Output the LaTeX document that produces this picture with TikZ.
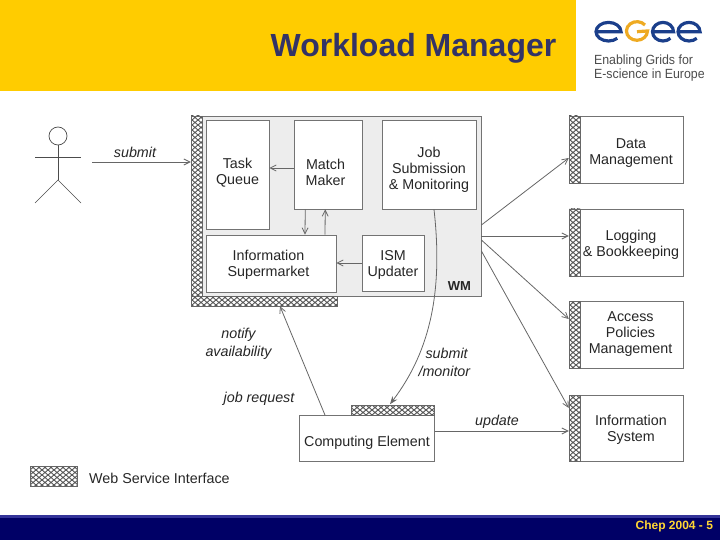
\documentclass[tikz,border=0pt]{standalone}
\usepackage{fontspec}
\setmainfont{Liberation Sans}
\newfontfamily\logofont[FakeStretch=0.93]{Liberation Sans}
\usetikzlibrary{patterns,arrows.meta}

\definecolor{headeryellow}{HTML}{FFCC00}
\definecolor{titleblue}{HTML}{333366}
\definecolor{footnavy}{HTML}{000066}
\definecolor{footstrip}{HTML}{333399}
\definecolor{logoblue}{HTML}{1B3F8B}
\definecolor{logoorange}{HTML}{EEAA22}

\pgfdeclarepatternformonly{wsimesh}{\pgfqpoint{-1pt}{-1pt}}{\pgfqpoint{7pt}{6pt}}{\pgfqpoint{6pt}{5pt}}{
  \pgfsetlinewidth{0.9pt}
  \pgfpathmoveto{\pgfqpoint{0pt}{0pt}}\pgfpathlineto{\pgfqpoint{6pt}{5pt}}
  \pgfpathmoveto{\pgfqpoint{0pt}{5pt}}\pgfpathlineto{\pgfqpoint{6pt}{0pt}}
  \pgfusepath{stroke}
}

\tikzset{
  box/.style={draw=black!55,fill=white,line width=0.8pt,inner sep=0pt},
  wsi/.style={draw=black!60,line width=0.5pt,preaction={fill=white},pattern=wsimesh,pattern color=black!65,inner sep=0pt},
  boxtext/.style={align=center,text=black!85,font=\fontsize{14.3}{16}\selectfont},
  linktext/.style={align=center,text=black!85,font=\itshape\fontsize{14.3}{18}\selectfont},
  wire/.style={draw=black!60,line width=0.8pt,-{Straight Barb[length=6pt,width=6pt]}},
  logostroke/.style={line width=3.2pt}
}

\newcommand{\logoe}[2]{
\draw[logostroke,logoblue] (#1-#2,31.7) -- (#1+#2,31.7)
  arc[start angle=0,end angle=-180,x radius=#2,y radius=9.3]
  arc[start angle=180,end angle=45,x radius=#2,y radius=9.3];
}

\begin{document}
\begin{tikzpicture}[x=1pt,y=-1pt]
\useasboundingbox (0,0) rectangle (720,540);

\fill[headeryellow] (0,0) rectangle (576,91);
\fill[footnavy] (0,515) rectangle (720,540);
\fill[footstrip] (0,515) rectangle (720,517.5);

\node[text=titleblue,font=\bfseries\fontsize{32}{36}\selectfont] (title) at (413.5,48) {Workload Manager};
\node[anchor=east,text=headeryellow!80!white,font=\bfseries\fontsize{12}{14}\selectfont] (pagenum) at (716.5,526.5) {Chep 2004 - 5};

\logoe{608.5}{12.5}
\draw[logostroke,logoorange] (645,25) arc[start angle=-40,end angle=-180,x radius=10.5,y radius=9.3]
  arc[start angle=180,end angle=0,x radius=10.5,y radius=9.3] -- (637,31.7);
\logoe{663}{10.5}
\logoe{689}{11}
\node[anchor=west,text=black!70,align=left,font=\logofont\fontsize{13.3}{14}\selectfont] (logotext) at (590.5,68) {Enabling Grids for\\E-science in Europe};

% actor
\draw[line width=0.7pt,black!70] (58,136) circle (9);
\draw[line width=0.7pt,black!70] (58,145) -- (58,180);
\draw[line width=0.7pt,black!70] (35,157) -- (81,157);
\draw[line width=0.7pt,black!70] (35,203) -- (58,180) -- (81,203);
\coordinate (actorhand) at (92,162);

% workload manager
\node[draw=black!55,fill=black!7,line width=0.8pt,minimum width=279pt,minimum height=180pt] (wm) at (341.5,206) {};
\node[wsi,minimum width=11pt,minimum height=190pt] (wmleft) at (196.5,211) {};
\node[wsi,minimum width=146pt,minimum height=10pt] (wmbottom) at (264,301) {};
\node[font=\bfseries\fontsize{13}{15}\selectfont,text=black!85] (wmtext) at (459.5,286) {WM};

\node[box,minimum width=62.5pt,minimum height=109pt] (queue) at (237.75,174.5) {};
\node[box,minimum width=67.5pt,minimum height=89pt] (match) at (328.25,164.5) {};
\node[box,minimum width=94pt,minimum height=89pt] (jobsub) at (429,164.5) {};
\node[box,minimum width=129.5pt,minimum height=57pt] (ism) at (271.25,263.5) {};
\node[box,minimum width=62pt,minimum height=56pt] (updater) at (393,263) {};

\node[boxtext] (queuetext) at (237.5,172.5) {Task\\Queue};
\node[boxtext] (matchtext) at (325.5,172.5) {Match\\Maker};
\node[boxtext] (jobsubtext) at (429,170) {Job\\Submission\\\& Monitoring};
\node[boxtext] (ismtext) at (268.5,264.5) {Information\\Supermarket};
\node[boxtext] (updatertext) at (393,264.5) {ISM\\Updater};

\draw[wire] ([yshift=-3.5pt]match.west) -- ([yshift=-3.5pt]queue.east |- match.west);
\draw[wire] ([xshift=-23pt]match.south) -- ([xshift=33.75pt]ism.north);
\draw[wire] ([xshift=53.75pt]ism.north) -- ([xshift=-3pt]match.south);
\draw[wire] (updater.west) -- (ism.east |- updater.west);

% services
\node[box,minimum width=103pt,minimum height=67pt] (data) at (631.5,149.5) {};
\node[box,minimum width=103pt,minimum height=67pt] (logging) at (631.5,242.5) {};
\node[box,minimum width=103pt,minimum height=67pt] (access) at (631.5,334.5) {};
\node[box,minimum width=103pt,minimum height=66pt] (infosys) at (631.5,428) {};

\node[wsi,minimum width=11pt,minimum height=67pt] (datawsi) at (574.5,149.5) {};
\node[wsi,minimum width=11pt,minimum height=67pt] (loggingwsi) at (574.5,242.5) {};
\node[wsi,minimum width=11pt,minimum height=67pt] (accesswsi) at (574.5,334.5) {};
\node[wsi,minimum width=11pt,minimum height=66pt] (infosyswsi) at (574.5,428) {};

\node[boxtext] (datatext) at (631,153) {Data\\Management};
\node[boxtext] (loggingtext) at (631,245) {Logging\\\& Bookkeeping};
\node[boxtext] (accesstext) at (630.5,334.5) {Access\\Policies\\Management};
\node[boxtext] (infosystext) at (631,430) {Information\\System};

% computing element
\node[box,minimum width=134.5pt,minimum height=46pt] (ce) at (367,438.5) {};
\node[wsi,minimum width=83pt,minimum height=10pt] (cewsi) at (392.5,410.5) {};
\node[boxtext] (cetext) at (367,442.5) {Computing Element};

% legend
\node[wsi,minimum width=47pt,minimum height=20pt] (legend) at (53.5,476) {};
\node[boxtext,anchor=west] (legendtext) at (85.7,478) {Web Service Interface};

% links
\draw[wire] (actorhand) -- (wmleft.west |- actorhand);
\draw[wire] ([yshift=-19pt]wm.east) -- ([yshift=-8.5pt]datawsi.west);
\draw[wire] ([yshift=-30pt]wm.east) -- ([yshift=6.5pt]loggingwsi.west);
\draw[wire] ([yshift=-34pt]wm.east) -- ([yshift=15.5pt]accesswsi.west);
\draw[wire] ([yshift=-45pt]wm.east) -- ([yshift=20pt]infosyswsi.west);
\draw[wire] ([xshift=-42pt]ce.north) -- ([xshift=16pt]wmbottom.south);
\draw[wire] ([yshift=7.5pt]ce.east) -- ([yshift=-3pt]infosyswsi.west);
\draw[draw=black!60,line width=0.8pt,-{Stealth[length=8pt,width=6pt]}] ([xshift=5pt]jobsub.south) .. controls (443,290) and (431,350) .. ([xshift=-2.5pt,yshift=1pt]cewsi.north);

\node[linktext] (submittext) at (135,152) {submit};
\node[linktext] (notifytext) at (238.5,344) {notify\\availability};
\node[linktext] (requesttext) at (259,399) {job request};
\node[linktext,align=left,anchor=west] (monitortext) at (415,362) {\hspace{7pt}submit\\/monitor};
\node[linktext] (updatetext) at (497,422) {update};

\end{tikzpicture}
\end{document}
